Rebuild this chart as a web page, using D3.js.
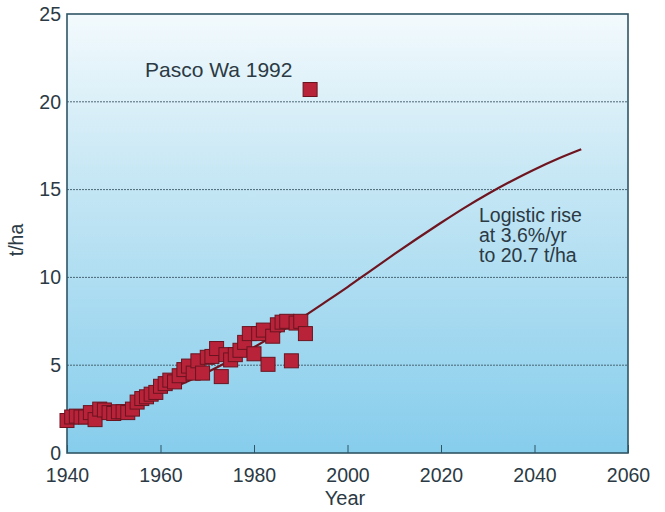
<!DOCTYPE html>
<html><head><meta charset="utf-8">
<script src="https://cdn.jsdelivr.net/npm/d3@7"></script>
<style>
body{margin:0;background:#fff;}
text{font-family:"Liberation Sans",Arial,sans-serif;fill:#2b3a44;}
</style></head>
<body><svg id="c" width="665" height="512"></svg>
<script>
const years = [1940,1941,1942,1943,1944,1945,1946,1947,1948,1949,1950,1951,1952,1953,1954,1955,1956,1957,1958,1959,1960,1961,1962,1963,1964,1965,1966,1967,1968,1969,1970,1971,1972,1973,1974,1975,1976,1977,1978,1979,1980,1981,1982,1983,1984,1985,1986,1987,1988,1989,1990,1991,1992];
const yields = [1.85,2.05,2.1,2.05,2.05,2.3,1.9,2.5,2.45,2.3,2.25,2.35,2.35,2.3,2.5,2.9,3.1,3.2,3.35,3.45,3.8,3.95,4.15,4.05,4.4,4.75,4.95,4.55,5.25,4.55,5.45,5.5,5.95,4.35,5.6,5.3,5.6,5.85,6.3,6.8,5.65,6.8,7.0,5.05,6.65,7.3,7.45,7.5,5.25,7.4,7.5,6.8,20.7];
const curveYears = [1940,1945,1950,1955,1960,1965,1970,1975,1980,1985,1990,1995,2000,2005,2010,2015,2020,2025,2030,2035,2040,2045,2050];
const curveValues = [1.83,2.15,2.53,2.95,3.44,3.99,4.60,5.28,6.02,6.81,7.66,8.55,9.45,10.39,11.32,12.23,13.11,13.96,14.75,15.48,16.15,16.76,17.30];
const xTicks = [1940,1960,1980,2000,2020,2040,2060];
const yTicks = [0,5,10,15,20,25];
const gridValues = [5,10,15,20];
const annotation = "Pasco Wa 1992";
const noteLines = ["Logistic rise","at 3.6%/yr","to 20.7 t/ha"];

const svg = d3.select("#c");
const L=67,R=628,T=14,B=453;
const x = d3.scaleLinear().domain([1940,2060]).range([L,R]);
const y = d3.scaleLinear().domain([0,25]).range([B,T]);
const FONT = "'Liberation Sans',Arial,sans-serif";

const defs = svg.append("defs");
const g = defs.append("linearGradient").attr("id","bg").attr("x1",0).attr("y1",0).attr("x2",0).attr("y2",1);
g.append("stop").attr("offset","0%").attr("stop-color","#f3fafd");
g.append("stop").attr("offset","35%").attr("stop-color","#c9e8f5");
g.append("stop").attr("offset","100%").attr("stop-color","#86cdec");
svg.append("rect").attr("x",L).attr("y",T).attr("width",R-L).attr("height",B-T).attr("fill","url(#bg)");

svg.selectAll(".grid").data(gridValues).enter().append("line")
  .attr("x1",L).attr("x2",R).attr("y1",d=>y(d)).attr("y2",d=>y(d))
  .attr("stroke","#3d5866").attr("stroke-width",0.9).attr("stroke-dasharray","2,1");

// axes
const xAxis = d3.axisBottom(x).tickValues(xTicks).tickSize(-8).tickPadding(15).tickFormat(d3.format("d"));
const gx = svg.append("g").attr("transform",`translate(0,${B})`).call(xAxis);
gx.select(".domain").remove();
gx.selectAll("line").attr("stroke","#2f5565").attr("stroke-width",1);
gx.selectAll("text").attr("font-size",19.5).style("font-family",FONT).attr("fill","#2b3a44");

const yAxis = d3.axisLeft(y).tickValues(yTicks).tickSize(0).tickPadding(6);
const gy = svg.append("g").attr("transform",`translate(${L},0)`).call(yAxis);
gy.select(".domain").remove();
gy.selectAll("text").attr("font-size",19.5).style("font-family",FONT).attr("fill","#2b3a44");

svg.append("rect").attr("x",L).attr("y",T).attr("width",R-L).attr("height",B-T)
  .attr("fill","none").attr("stroke","#2f5565").attr("stroke-width",1.6);

// curve
const line = d3.line().x((d,i)=>x(curveYears[i])).y(d=>y(d)).curve(d3.curveMonotoneX);
svg.append("path").datum(curveValues).attr("d",line).attr("fill","none")
  .attr("stroke","#6e1520").attr("stroke-width",2.2);

// points
const s=14;
svg.selectAll(".pt").data(yields).enter().append("rect")
  .attr("x",(d,i)=>x(years[i])-s/2).attr("y",d=>y(d)-s/2)
  .attr("width",s).attr("height",s)
  .attr("fill","#b8233a").attr("stroke","#6a1420").attr("stroke-width",1);

svg.append("text").attr("x",145).attr("y",77).attr("font-size",21).text(annotation);
svg.append("g").selectAll("text").data(noteLines).enter().append("text")
  .attr("x",479).attr("y",(d,i)=>222+i*20).attr("font-size",19.5).text(d=>d);

svg.append("text").attr("x",345).attr("y",505).attr("text-anchor","middle").attr("font-size",20).text("Year");
svg.append("text").attr("transform","translate(23,240) rotate(-90)").attr("text-anchor","middle").attr("font-size",19.5).text("t/ha");
</script></body></html>
